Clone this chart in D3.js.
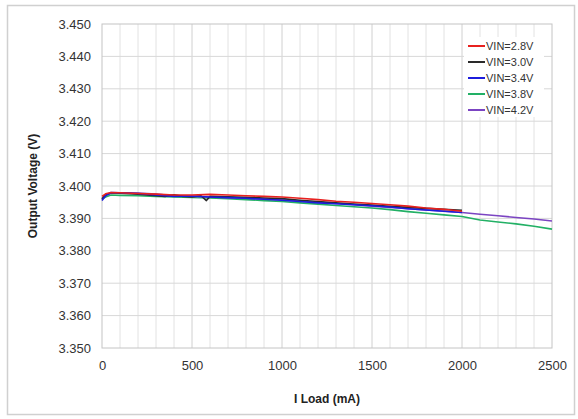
<!DOCTYPE html>
<html>
<head>
<meta charset="utf-8">
<script src="https://cdn.jsdelivr.net/npm/d3@7"></script>
<style>
  body { margin: 0; background: #fff; }
  text { font-family: "Liberation Sans", Arial, sans-serif; }
</style>
</head>
<body>
<div id="chart"></div>
<script>
// Load current (mA)
const loadShort = [0, 20, 50, 100, 200, 300, 400, 500, 600, 700, 800, 900, 1000,
  1100, 1200, 1300, 1400, 1500, 1600, 1700, 1800, 1900, 2000];
const loadBlack = [0, 20, 50, 100, 200, 300, 350, 400, 450, 500, 550, 580, 600, 700, 800, 900, 1000,
  1100, 1200, 1300, 1400, 1500, 1600, 1700, 1800, 1900, 2000];
const loadLong = loadShort.concat([2100, 2200, 2300, 2400, 2500]);

// Output voltage (V)
const vin28 = [3.3968, 3.3976, 3.3980, 3.3979, 3.3977, 3.3975, 3.3972, 3.3972, 3.3974, 3.3972, 3.3970,
  3.3968, 3.3966, 3.3962, 3.3958, 3.3953, 3.3950, 3.3946, 3.3942, 3.3938, 3.3932, 3.3928, 3.3922];
const vin30 = [3.3960, 3.3972, 3.3979, 3.3978, 3.3975, 3.3970, 3.3968, 3.3973, 3.3968, 3.3966, 3.3970,
  3.3955, 3.3968, 3.3967, 3.3965, 3.3963, 3.3961, 3.3956, 3.3952, 3.3948, 3.3944, 3.3941, 3.3937,
  3.3934, 3.3931, 3.3928, 3.3925];
const vin34 = [3.3955, 3.3970, 3.3980, 3.3979, 3.3977, 3.3972, 3.3968, 3.3969, 3.3966, 3.3964, 3.3962,
  3.3959, 3.3956, 3.3952, 3.3948, 3.3945, 3.3942, 3.3939, 3.3935, 3.3930, 3.3926, 3.3922, 3.3918];
const vin38 = [3.3960, 3.3966, 3.3972, 3.3971, 3.3970, 3.3968, 3.3966, 3.3965, 3.3963, 3.3961, 3.3958,
  3.3955, 3.3952, 3.3948, 3.3944, 3.3940, 3.3936, 3.3932, 3.3927, 3.3921, 3.3916, 3.3911, 3.3906,
  3.3895, 3.3889, 3.3883, 3.3876, 3.3867];
const vin42 = [3.3962, 3.3972, 3.3978, 3.3979, 3.3978, 3.3975, 3.3970, 3.3968, 3.3966, 3.3964, 3.3962,
  3.3960, 3.3957, 3.3953, 3.3950, 3.3946, 3.3942, 3.3938, 3.3934, 3.3930, 3.3926, 3.3922, 3.3918,
  3.3913, 3.3908, 3.3903, 3.3898, 3.3892];

const seriesNames = ["VIN=2.8V", "VIN=3.0V", "VIN=3.4V", "VIN=3.8V", "VIN=4.2V"];
const seriesColors = ["#e8211f", "#2a2a2a", "#1c1cdc", "#22b065", "#7b44c2"];

const xTicks = [0, 500, 1000, 1500, 2000, 2500];
const yTicks = [3.350, 3.360, 3.370, 3.380, 3.390, 3.400, 3.410, 3.420, 3.430, 3.440, 3.450];

const series = [
  { name: seriesNames[0], color: seriesColors[0], x: loadShort, y: vin28 },
  { name: seriesNames[1], color: seriesColors[1], x: loadBlack, y: vin30 },
  { name: seriesNames[2], color: seriesColors[2], x: loadShort, y: vin34 },
  { name: seriesNames[3], color: seriesColors[3], x: loadLong, y: vin38 },
  { name: seriesNames[4], color: seriesColors[4], x: loadLong, y: vin42 }
];

const W = 578, H = 419;
const margin = { top: 24, right: 26, bottom: 71, left: 102 };

const svg = d3.select("#chart").append("svg")
    .attr("width", W)
    .attr("height", H);

// outer frame
svg.append("rect")
    .attr("x", 7.5).attr("y", 5.5)
    .attr("width", W - 11).attr("height", H - 10)
    .attr("fill", "#fff")
    .attr("stroke", "#d0d0d0")
    .attr("stroke-width", 1.5);

const x = d3.scaleLinear().domain([0, 2500]).range([margin.left, W - margin.right]);
const y = d3.scaleLinear().domain([3.350, 3.450]).range([H - margin.bottom, margin.top]);

// grid
const grid = svg.append("g");
grid.selectAll(".vg").data(d3.range(100, 2500, 100)).join("line")
    .attr("x1", d => x(d)).attr("x2", d => x(d))
    .attr("y1", y(3.350)).attr("y2", y(3.450))
    .attr("stroke", d => d % 500 === 0 ? "#d0d0d0" : "#e2e2e2")
    .attr("stroke-width", 1);
grid.selectAll(".hg").data(yTicks.slice(1, -1)).join("line")
    .attr("x1", x(0)).attr("x2", x(2500))
    .attr("y1", d => y(d)).attr("y2", d => y(d))
    .attr("stroke", "#d8d8d8")
    .attr("stroke-width", 1);

svg.append("rect")
    .attr("x", x(0)).attr("y", y(3.450))
    .attr("width", x(2500) - x(0)).attr("height", y(3.350) - y(3.450))
    .attr("fill", "none")
    .attr("stroke", "#c4c4c4");

// axes
const xAxis = svg.append("g")
    .attr("transform", `translate(0,${y(3.350)})`)
    .call(d3.axisBottom(x).tickValues(xTicks).tickFormat(d3.format("d")).tickSize(0).tickPadding(13));
const yAxis = svg.append("g")
    .attr("transform", `translate(${x(0)},0)`)
    .call(d3.axisLeft(y).tickValues(yTicks).tickFormat(d3.format(".3f")).tickSize(0).tickPadding(11));
[xAxis, yAxis].forEach(a => {
  a.select(".domain").remove();
  a.selectAll("text")
      .attr("fill", "#333")
      .style("font-size", "13px")
      .style("font-family", "Liberation Sans, Arial, sans-serif");
});

// lines
const line = d3.line().x(d => x(d[0])).y(d => y(d[1]));
const drawOrder = [3, 4, 1, 2, 0];
drawOrder.forEach(i => {
  const s = series[i];
  svg.append("path")
      .datum(s.x.map((v, k) => [v, s.y[k]]))
      .attr("d", line)
      .attr("fill", "none")
      .attr("stroke", s.color)
      .attr("stroke-width", 1.6)
      .attr("stroke-linejoin", "round");
});

// legend
const legend = svg.append("g");
legend.append("rect")
    .attr("x", 464).attr("y", 37).attr("width", 80).attr("height", 80)
    .attr("fill", "#fff");
series.forEach((s, i) => {
  const ly = 46 + i * 16;
  legend.append("line")
      .attr("x1", 468).attr("x2", 485)
      .attr("y1", ly).attr("y2", ly)
      .attr("stroke", s.color).attr("stroke-width", 2);
  legend.append("text")
      .attr("x", 486).attr("y", ly + 4)
      .attr("fill", "#333")
      .style("font-size", "11px")
      .text(s.name);
});

// axis titles
svg.append("text")
    .attr("x", (x(0) + x(2500)) / 2).attr("y", 403)
    .attr("text-anchor", "middle")
    .style("font-size", "12px").style("font-weight", "bold")
    .attr("fill", "#222")
    .text("I Load (mA)");
svg.append("text")
    .attr("transform", `translate(37,${(y(3.350) + y(3.450)) / 2}) rotate(-90)`)
    .attr("text-anchor", "middle")
    .style("font-size", "12px").style("font-weight", "bold")
    .attr("fill", "#222")
    .text("Output Voltage (V)");
</script>
</body>
</html>
